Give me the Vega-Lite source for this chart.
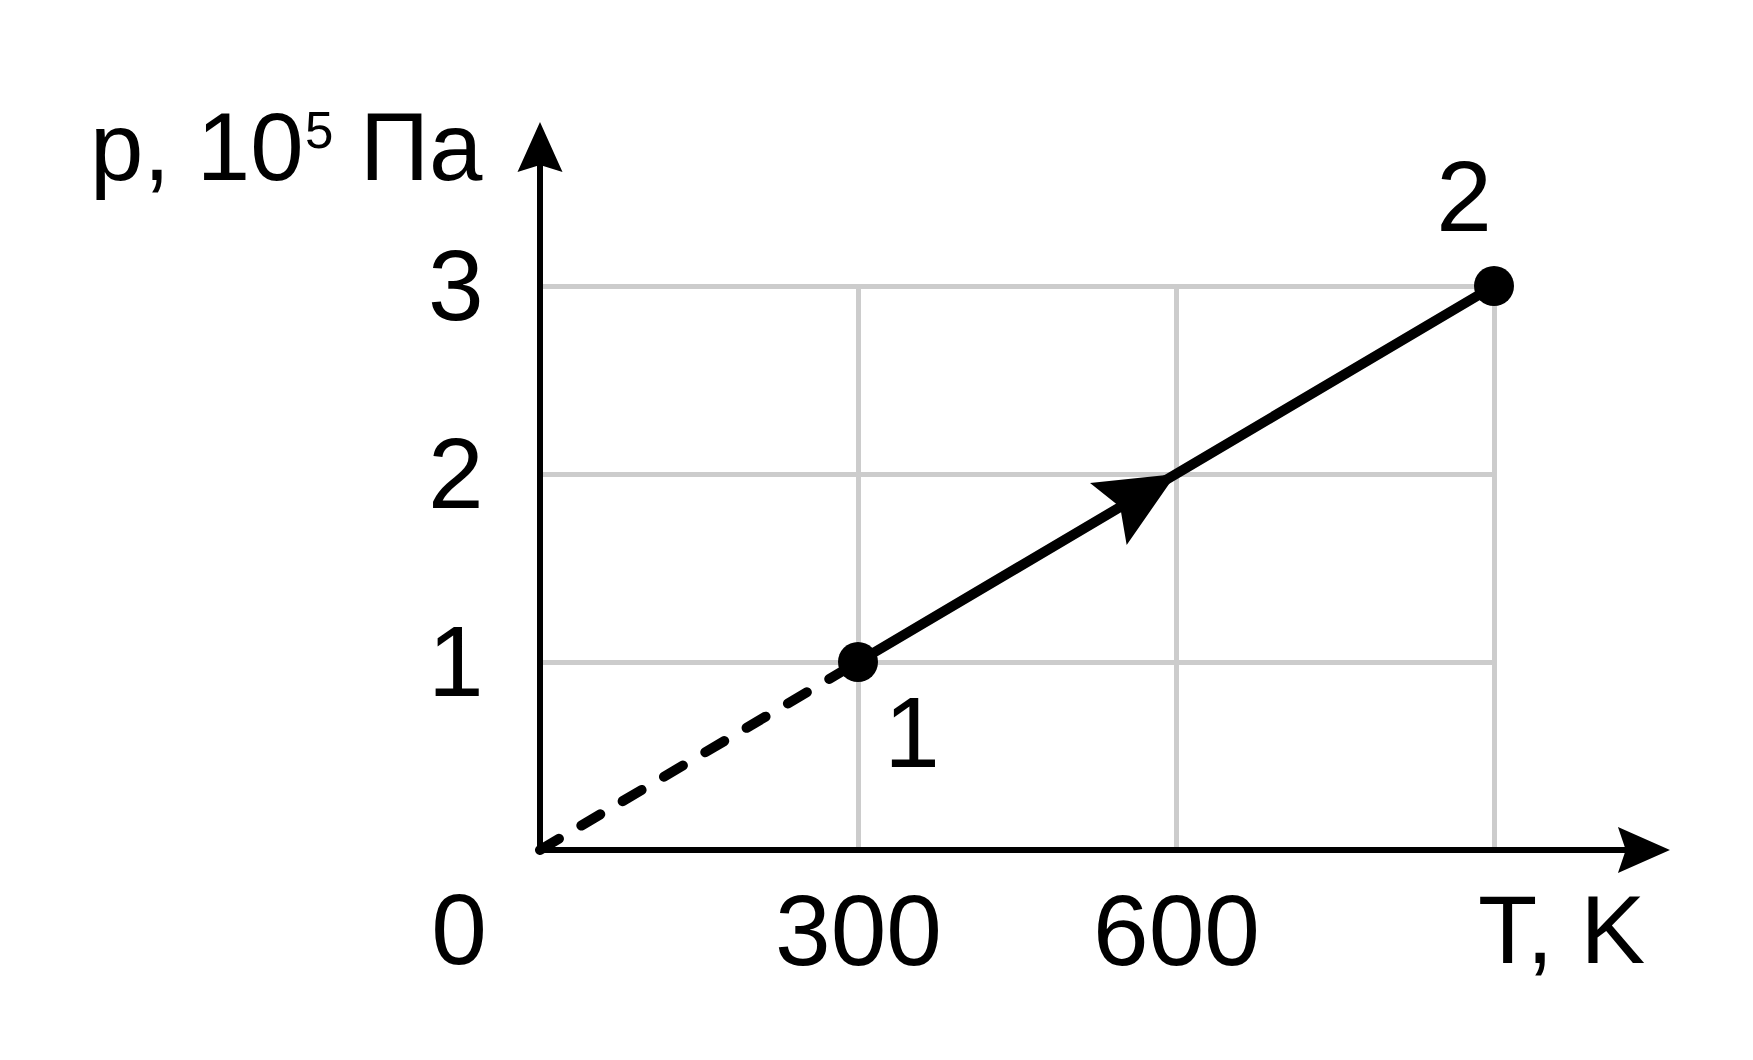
{
  "$schema": "https://vega.github.io/schema/vega-lite/v6.json",
  "width": 954,
  "height": 564,
  "autosize": {"type": "none"},
  "padding": {"left": 540, "top": 286, "right": 259, "bottom": 210},
  "background": "white",
  "config": {"view": {"stroke": null}},
  "encoding": {
    "x": {
      "field": "T", "type": "quantitative",
      "scale": {"domain": [0, 900], "nice": false, "zero": false},
      "axis": {
        "values": [300, 600, 900], "title": null, "domain": false, "ticks": false,
        "grid": true, "gridColor": "#cccccc", "gridWidth": 5,
        "labelExpr": "datum.value == 900 ? '' : datum.label",
        "labelFont": "Liberation Sans, sans-serif",
        "labelFontSize": 100, "labelColor": "black", "labelBaseline": "alphabetic",
        "labelPadding": 114, "labelOverlap": false, "labelFlush": false, "labelBound": false
      }
    },
    "y": {
      "field": "p", "type": "quantitative",
      "scale": {"domain": [0, 3], "nice": false, "zero": false},
      "axis": {
        "values": [1, 2, 3], "title": null, "domain": false, "ticks": false,
        "grid": true, "gridColor": "#cccccc", "gridWidth": 5,
        "labelFont": "Liberation Sans, sans-serif",
        "labelFontSize": 100, "labelColor": "black", "labelBaseline": "alphabetic",
        "labelAlign": "right", "labelPadding": 57, "labelOffset": 33,
        "labelOverlap": false, "labelFlush": false, "labelBound": false
      }
    }
  },
  "layer": [
    {
      "data": {"values": [{"T": 0, "p": 0, "T2": 300, "p2": 1}]},
      "mark": {"type": "rule", "color": "black", "strokeWidth": 10, "strokeDash": [22, 26], "strokeCap": "round"},
      "encoding": {"x2": {"field": "T2"}, "y2": {"field": "p2"}}
    },
    {
      "data": {"values": [{"T": 300, "p": 1, "T2": 900, "p2": 3}]},
      "mark": {"type": "rule", "color": "black", "strokeWidth": 10, "strokeCap": "round"},
      "encoding": {"x2": {"field": "T2"}, "y2": {"field": "p2"}}
    },
    {
      "data": {"values": [{"T": 0, "p": 0, "T2": 1030, "p2": 0}, {"T": 0, "p": 0, "T2": 0, "p2": 3.7}]},
      "mark": {"type": "rule", "color": "black", "strokeWidth": 6, "strokeCap": "square"},
      "encoding": {"x2": {"field": "T2"}, "y2": {"field": "p2"}}
    },
    {
      "data": {"values": [{"T": 600, "p": 2}]},
      "mark": {"type": "point", "filled": true, "color": "black", "opacity": 1, "strokeWidth": 0,
               "shape": "M0,0L-2,-0.916L-1.65,0L-2,0.916Z", "size": 6178, "angle": 329.4}
    },
    {
      "data": {"values": [{"T": 0, "p": 3.872}]},
      "mark": {"type": "point", "filled": true, "color": "black", "opacity": 1, "strokeWidth": 0,
               "shape": "M0,0L-2,-0.9L-1.72,0L-2,0.9Z", "size": 2500, "angle": 270}
    },
    {
      "data": {"values": [{"T": 1066, "p": 0}]},
      "mark": {"type": "point", "filled": true, "color": "black", "opacity": 1, "strokeWidth": 0,
               "shape": "M0,0L-2,-0.88L-1.7,0L-2,0.88Z", "size": 2704, "angle": 0}
    },
    {
      "data": {"values": [{"T": 300, "p": 1}, {"T": 900, "p": 3}]},
      "mark": {"type": "point", "filled": true, "shape": "circle", "color": "black", "opacity": 1, "size": 1600, "strokeWidth": 0}
    },
    {
      "data": {"values": [
        {"label": "0", "T": -76.4, "p": -0.606},
        {"label": "1", "T": 351, "p": 0.441},
        {"label": "2", "T": 871.7, "p": 3.293}
      ]},
      "mark": {"type": "text", "align": "center", "baseline": "alphabetic", "color": "black", "fontSize": 100,
               "font": "Liberation Sans, sans-serif"},
      "encoding": {"text": {"field": "label"}}
    },
    {
      "data": {"values": [
        {"label": "T, K", "T": 884.9, "p": -0.601}
      ]},
      "mark": {"type": "text", "align": "left", "baseline": "alphabetic", "color": "black", "fontSize": 97,
               "font": "Liberation Sans, sans-serif"},
      "encoding": {"text": {"field": "label"}}
    },
    {
      "data": {"values": [
        {"label": "p, 10", "T": -424.5, "p": 3.564},
        {"label": "Па", "T": -169.8, "p": 3.564}
      ]},
      "mark": {"type": "text", "align": "left", "baseline": "alphabetic", "color": "black", "fontSize": 96,
               "font": "Liberation Sans, sans-serif"},
      "encoding": {"text": {"field": "label"}}
    },
    {
      "data": {"values": [{"label": "5", "T": -221.7, "p": 3.734}]},
      "mark": {"type": "text", "align": "left", "baseline": "alphabetic", "color": "black", "fontSize": 51,
               "font": "Liberation Sans, sans-serif"},
      "encoding": {"text": {"field": "label"}}
    }
  ]
}
